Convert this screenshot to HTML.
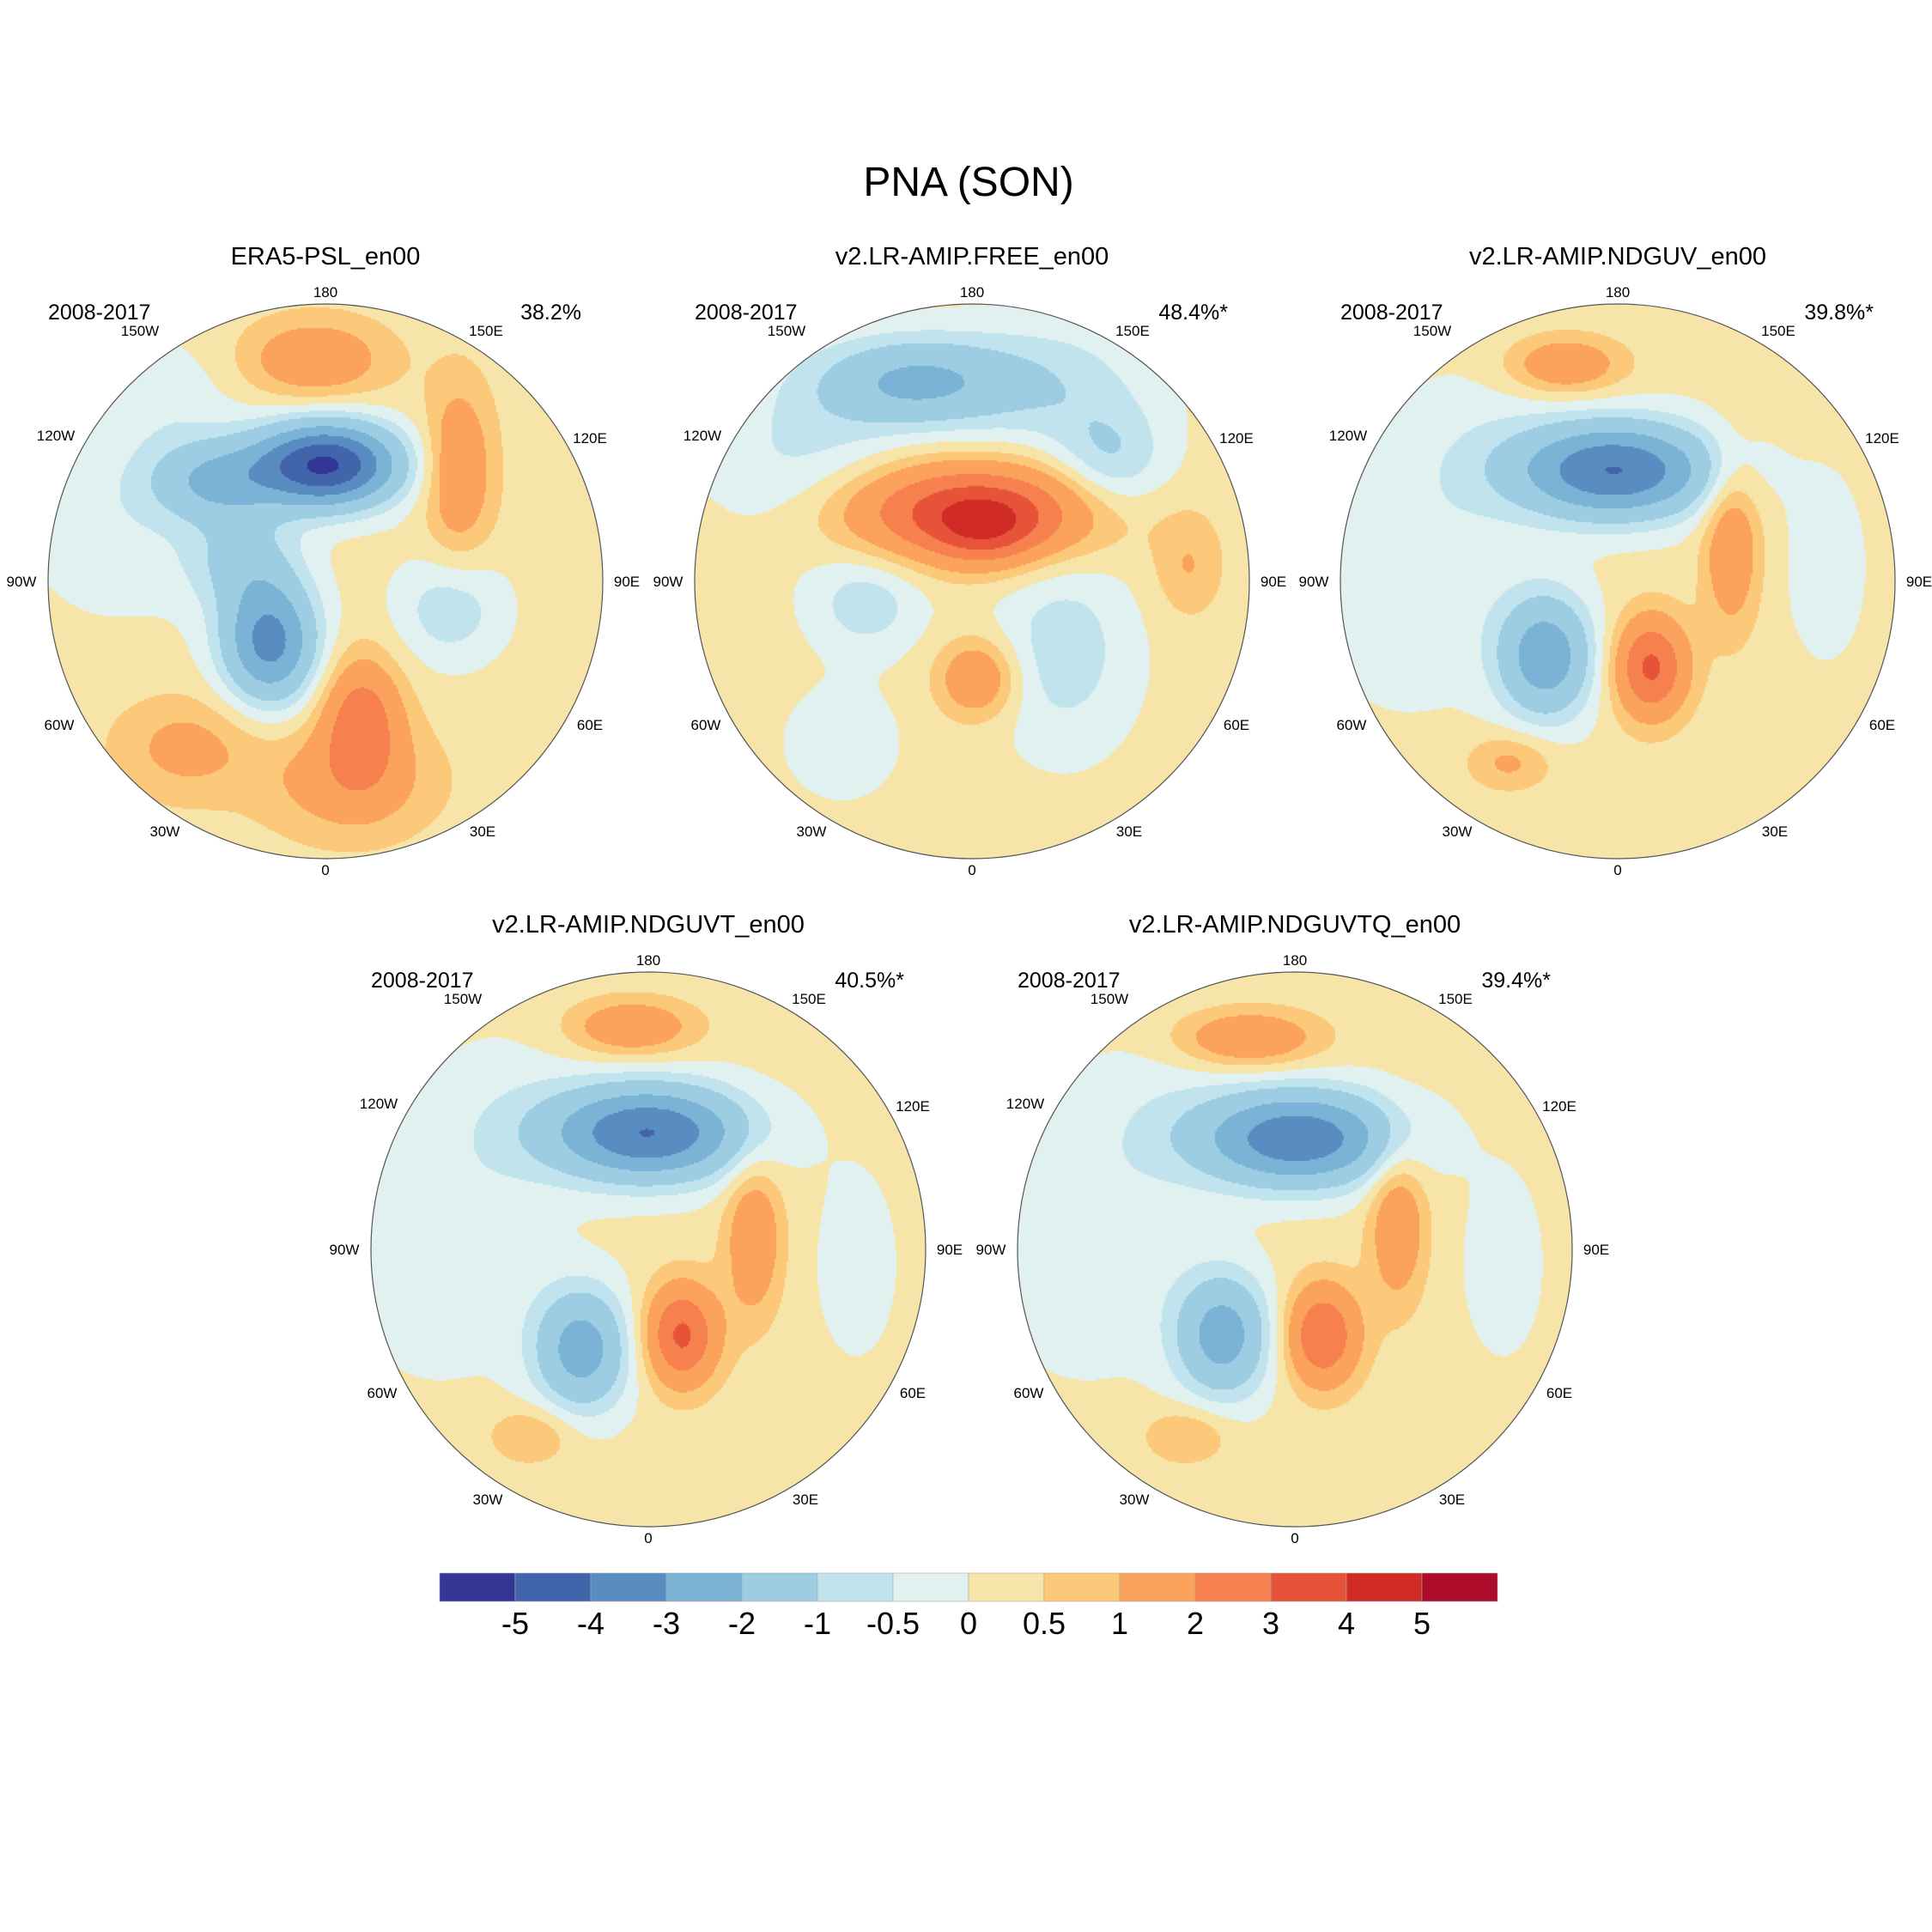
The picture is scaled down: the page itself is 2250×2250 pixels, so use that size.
<!DOCTYPE html>
<html><head><meta charset="utf-8"><style>
html,body{margin:0;padding:0;background:#fff;}
#wrap{position:relative;width:2250px;height:2250px;overflow:hidden;}
canvas,svg{position:absolute;left:0;top:0;}
text{font-family:"Liberation Sans",sans-serif;fill:#000;}
</style></head><body>
<div id="wrap">
<canvas id="cv" width="2250" height="2250"></canvas>
<svg id="sv" width="2250" height="2250">
<text x="1128" y="228" font-size="48" text-anchor="middle">PNA (SON)</text>
</svg>
</div>
<script>
// colour levels
const levels = [-5,-4,-3,-2,-1,-0.5,0,0.5,1,2,3,4,5];
const colors = ["#333695","#4264aa","#598cc0","#7bb3d6","#9ccde2","#c0e3ee","#e1f1f0","#f6e4a8","#fcc87a","#fba35d","#f7804f","#e65339","#d12b26","#ac0b29"];
const levelLabels = ["-5","-4","-3","-2","-1","-0.5","0","0.5","1","2","3","4","5"];
// panels
const panelTitles = ["ERA5-PSL_en00","v2.LR-AMIP.FREE_en00","v2.LR-AMIP.NDGUV_en00","v2.LR-AMIP.NDGUVT_en00","v2.LR-AMIP.NDGUVTQ_en00"];
const panelPct = ["38.2%","48.4%*","39.8%*","40.5%*","39.4%*"];
const panelPeriod = "2008-2017";
const lonLabels = ["0","30E","60E","90E","120E","150E","180","150W","120W","90W","60W","30W"];
// anomaly centres per panel: [u, v, amplitude, sx, sy] in circle-normalised coords
const base = [0.25, 0.2, 0.2, 0.2, 0.2];
const blobs1 = [[0,-0.42,-5.4,0.26,0.15],[-0.4,-0.36,-2.0,0.22,0.14],[-0.2,0.22,-3.6,0.17,0.22],[-0.3,-0.08,-1.3,0.2,0.18],[-0.04,-0.8,1.5,0.25,0.14],[0.48,-0.4,1.6,0.12,0.3],[0.13,0.5,2.3,0.14,0.22],[0.08,0.72,1.2,0.3,0.2],[-0.5,0.6,1.0,0.25,0.18],[0.45,0.1,-1.1,0.2,0.2],[-0.75,-0.2,-0.6,0.35,0.35],[-0.55,-0.65,-0.5,0.25,0.25]];
const blobs2 = [[-0.2,-0.72,-2.3,0.35,0.16],[0,-0.25,3.6,0.45,0.17],[0.05,-0.18,1.4,0.18,0.12],[-0.38,0.08,-1.0,0.2,0.18],[0.33,0.25,-1.0,0.25,0.35],[0.02,0.35,1.7,0.14,0.14],[0.78,-0.05,0.8,0.12,0.18],[0.5,-0.42,-1.2,0.2,0.2],[-0.47,0.58,-0.6,0.2,0.2],[-0.6,-0.45,-0.8,0.35,0.3],[0.3,-0.7,-0.9,0.35,0.25]];
const blobs3 = [[-0.19,-0.78,1.6,0.2,0.1],[-0.01,-0.4,-4.2,0.35,0.17],[-0.26,0.27,-2.9,0.17,0.22],[0.12,0.31,3.0,0.13,0.18],[0.41,-0.13,1.6,0.1,0.3],[-0.39,0.65,1.0,0.15,0.1],[-0.75,0,-0.6,0.35,0.45],[0.75,-0.05,-0.5,0.15,0.35],[-0.5,-0.5,-0.4,0.3,0.3]];
const blobs4 = [[-0.06,-0.8,1.6,0.22,0.1],[0,-0.42,-4.2,0.35,0.17],[-0.24,0.36,-2.7,0.17,0.22],[0.12,0.31,3.0,0.13,0.18],[0.38,-0.04,1.6,0.1,0.28],[-0.42,0.67,0.9,0.15,0.1],[-0.75,0,-0.6,0.35,0.45],[0.75,0.05,-0.5,0.15,0.35],[-0.5,-0.5,-0.4,0.3,0.3]];
const blobs5 = [[-0.17,-0.76,1.7,0.25,0.1],[0.01,-0.4,-4.0,0.35,0.17],[-0.26,0.31,-2.7,0.17,0.22],[0.1,0.31,2.8,0.13,0.18],[0.37,-0.09,1.6,0.1,0.28],[-0.39,0.67,0.9,0.15,0.1],[-0.75,0,-0.6,0.35,0.45],[0.75,0.05,-0.5,0.15,0.35],[-0.5,-0.5,-0.4,0.3,0.3]];
const allBlobs = [blobs1,blobs2,blobs3,blobs4,blobs5];
const centres = [[379,677],[1132,677],[1884,677],[755,1455],[1508,1455]];
const R = 323;
// label layout offsets (relative to circle centre, px)
const labelOffsets = [[0,336],[183,291],[308,167],[351,0],[308,-167],[187,-292],[0,-337],[-216,-292],[-314,-170],[-354,0],[-310,167],[-187,291]];

const cv = document.getElementById('cv'); const ctx = cv.getContext('2d');
const sv = document.getElementById('sv'); const NS = 'http://www.w3.org/2000/svg';
function mk(tag, attrs, txt){const e=document.createElementNS(NS,tag);for(const k in attrs)e.setAttribute(k,attrs[k]);if(txt!==undefined)e.textContent=txt;sv.appendChild(e);return e;}
function colorFor(v){let i=0;while(i<levels.length&&v>=levels[i])i++;return colors[i];}
function field(p,u,v){let s=base[p];for(const b of allBlobs[p]){const du=(u-b[0])/b[3],dv=(v-b[1])/b[4];s+=b[2]*Math.exp(-(du*du+dv*dv));}return s;}

for(let p=0;p<5;p++){
  const [cx,cy]=centres[p];
  ctx.save();ctx.beginPath();ctx.arc(cx,cy,R,0,Math.PI*2);ctx.clip();
  const st=2;
  for(let y=cy-R;y<cy+R;y+=st){for(let x=cx-R;x<cx+R;x+=st){
    const u=(x+st/2-cx)/R,v=(y+st/2-cy)/R; if(u*u+v*v>1.02)continue;
    ctx.fillStyle=colorFor(field(p,u,v));ctx.fillRect(x,y,st,st);}}
  ctx.restore();
  const c=mk('circle',{cx:cx,cy:cy,r:R,fill:'none',stroke:'#555','stroke-width':1.2});
  
  
  const t=mk('text',{x:cx,y:cy-369,'font-size':29,'text-anchor':'middle'},panelTitles[p]);
  
  
  const t2=mk('text',{x:cx-323,y:cy-305,'font-size':25},panelPeriod);
  
  
  const t3=mk('text',{x:cx+298,y:cy-305,'font-size':25,'text-anchor':'end'},panelPct[p]);
  
  
  for(let i=0;i<lonLabels.length;i++){
    const o=labelOffsets[i];
    const lt=mk('text',{x:cx+o[0],y:cy+o[1]+6,'font-size':17,'text-anchor':'middle'},lonLabels[i]);
    
    
  }
}
// colorbar
const cbX=512,cbY=1832,cbW=88,cbH=33;
for(let i=0;i<colors.length;i++){
  const r=mk('rect',{x:cbX+i*cbW,y:cbY,width:cbW,height:cbH,fill:colors[i],stroke:'#aaa','stroke-width':0.6});
  
  
}
for(let i=0;i<levelLabels.length;i++){
  const t=mk('text',{x:cbX+(i+1)*cbW,y:1903,'font-size':36,'text-anchor':'middle'},levelLabels[i]);
  
  
}
</script>
</body></html>
